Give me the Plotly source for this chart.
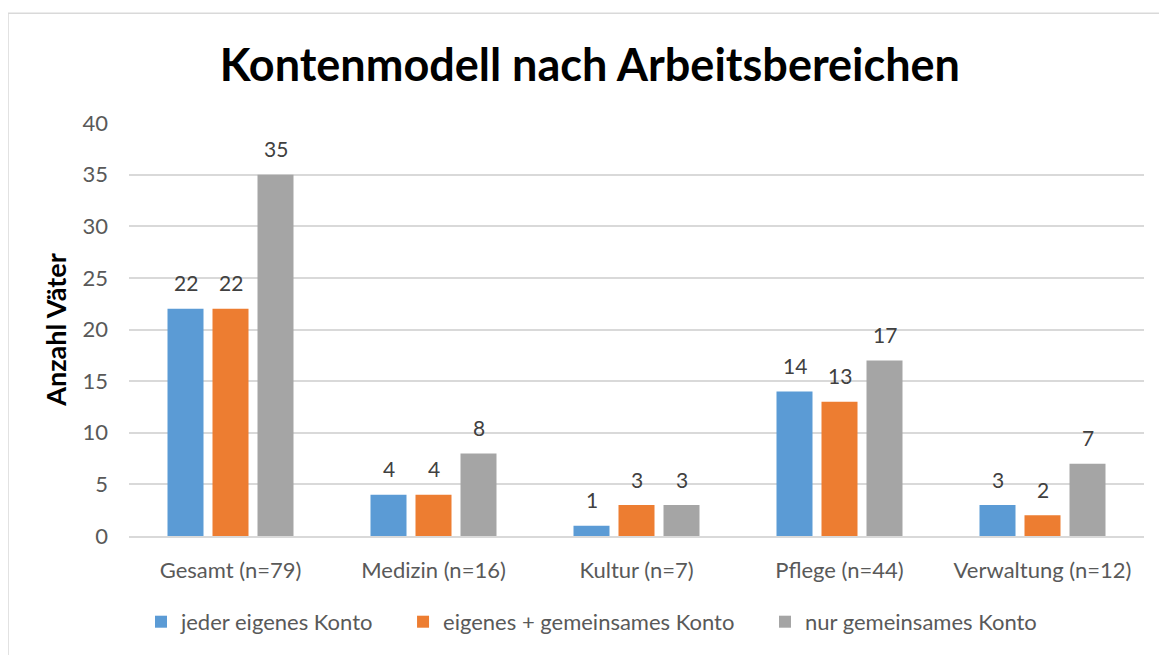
import plotly.graph_objects as go

categories = ["Gesamt (n=79)", "Medizin (n=16)", "Kultur (n=7)", "Pflege (n=44)", "Verwaltung (n=12)"]
series_names = ["jeder eigenes Konto", "eigenes + gemeinsames Konto", "nur gemeinsames Konto"]
jeder_eigenes = [22, 4, 1, 14, 3]
eigenes_gemeinsam = [22, 4, 3, 13, 2]
nur_gemeinsam = [35, 8, 3, 17, 7]
y_ticks = [0, 5, 10, 15, 20, 25, 30, 35, 40]

colors = ["#5B9BD5", "#ED7D31", "#A5A5A5"]
FONT = "Lato, 'Open Sans', sans-serif"
all_series = [jeder_eigenes, eigenes_gemeinsam, nur_gemeinsam]
legend_ids = ["legend", "legend2", "legend3"]
legend_x = [0.0118, 0.270, 0.6266]

fig = go.Figure()
for name, vals, col, lg in zip(series_names, all_series, colors, legend_ids):
    fig.add_trace(go.Bar(
        x=categories, y=vals, name=name, legend=lg,
        marker=dict(color=col, line=dict(width=0)),
    ))

# value labels above bars (data-driven, shifted to each bar of the group)
for i, vals in enumerate(all_series):
    for cat, v in zip(categories, vals):
        fig.add_annotation(x=cat, y=v, text=str(v), showarrow=False,
                           xshift=(i - 1) * 45, yshift=26, yanchor="middle",
                           font=dict(size=21, color="#404040", family=FONT))

legend_common = dict(orientation="h", xanchor="left", y=-0.208, yanchor="middle",
                     font=dict(size=22, color="#595959", family=FONT), itemwidth=30,
                     bgcolor="rgba(0,0,0,0)")

fig.update_layout(
    width=1159, height=647,
    margin=dict(l=121, r=23, t=115, b=114),
    paper_bgcolor="white", plot_bgcolor="white",
    barmode="group", bargap=0.335, bargroupgap=0.2,
    title=dict(text="<b>Kontenmodell nach Arbeitsbereichen</b>", x=0.502, xanchor="center",
               y=(647 - 57) / 647, yanchor="middle",
               font=dict(size=45, color="#000000", family=FONT)),
    font=dict(family=FONT, size=22, color="#595959"),
    showlegend=True,
    legend=dict(x=legend_x[0], **legend_common),
    legend2=dict(x=legend_x[1], **legend_common),
    legend3=dict(x=legend_x[2], **legend_common),
    yaxis=dict(range=[0, 40], tickvals=y_ticks, showgrid=True, gridcolor="#D9D9D9", gridwidth=1.5,
               zeroline=False, showline=False, ticks="", ticklabelstandoff=20,
               tickfont=dict(size=22, color="#595959"),
               title=dict(text="<b>Anzahl Väter</b>", font=dict(size=27, color="#000000"), standoff=8)),
    xaxis=dict(showline=True, linecolor="#D9D9D9", linewidth=1.5, ticks="", ticklabelstandoff=14,
               tickfont=dict(size=22, color="#595959")),
)

fig.add_shape(type="rect", xref="paper", yref="paper",
              x0=-121 / 1015, x1=1.2, y0=-0.6, y1=(418 + 115 - 4) / 418,
              line=dict(color="#D9D9D9", width=1.5), fillcolor="rgba(0,0,0,0)", layer="below")

fig.write_html("out.html")
